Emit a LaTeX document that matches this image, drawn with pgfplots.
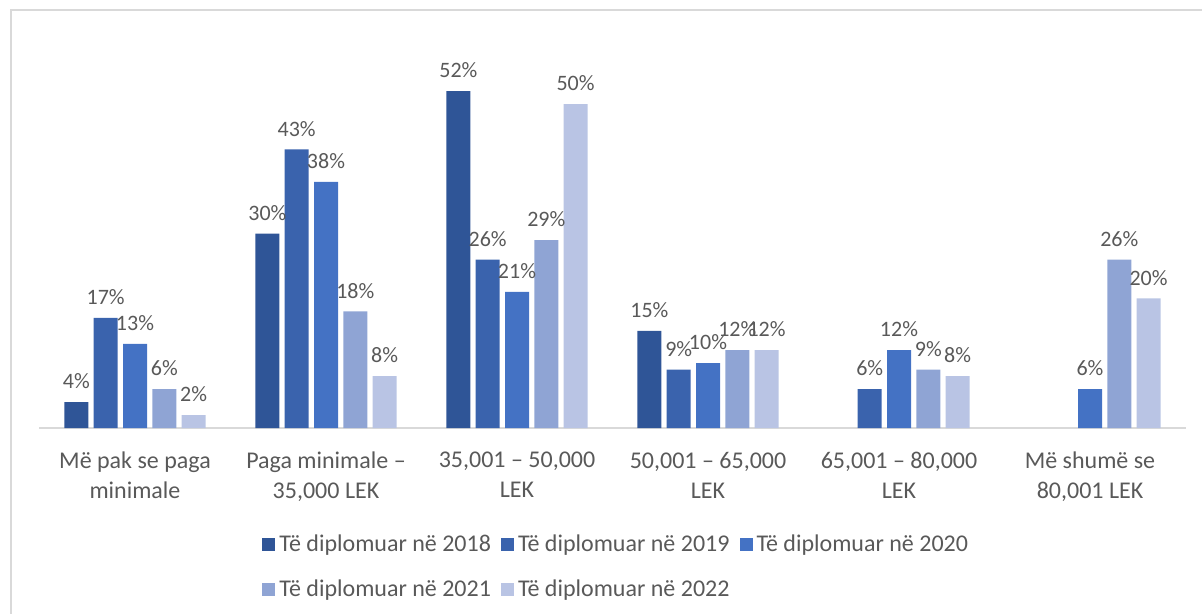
\documentclass[border=0pt]{standalone}
\usepackage{fontspec}
\setmainfont{Carlito}
\usepackage{pgfplots}
\pgfplotsset{compat=1.18}
\definecolor{cA}{RGB}{47,85,151}
\definecolor{cB}{RGB}{58,99,173}
\definecolor{cC}{RGB}{68,114,196}
\definecolor{cD}{RGB}{143,164,212}
\definecolor{cE}{RGB}{185,196,228}
\definecolor{txt}{RGB}{89,89,89}
\definecolor{gridc}{RGB}{217,217,217}
\begin{document}
\begin{tikzpicture}
\useasboundingbox (0,0) rectangle (601pt,-307pt);
\draw[gridc, line width=0.8pt] (5.5pt,-320pt) -- (5.5pt,-5pt) -- (620pt,-5pt);
\begin{axis}[
  at={(19.75pt,-214pt)}, anchor=south west,
  scale only axis, width=573pt, height=194.4pt,
  xmin=-0.5, xmax=5.5, ymin=0, ymax=60,
  axis x line*=bottom, axis y line=none,
  axis line style={draw=gridc, line width=0.8pt},
  xtick={0,1,2,3,4,5},
  xticklabels={{Më pak se paga\\minimale},{Paga minimale –\\35,000 LEK},{35,001 – 50,000\\LEK},{50,001 – 65,000\\LEK},{65,001 – 80,000\\LEK},{Më shumë se\\80,001 LEK}},
  xticklabel style={align=center, font=\fontsize{12}{15}\selectfont, text=txt, yshift=-8.5pt},
  major tick length=0pt,
  ytick=\empty,
  ybar=2.65pt, bar width=12pt,
  nodes near coords={\pgfmathprintnumber{\pgfplotspointmeta}\%},
  /pgf/number format/assume math mode=true,
  /pgf/number format/precision=0,
  every node near coord/.append style={font=\fontsize{11}{13}\selectfont, text=txt, yshift=3pt, inner xsep=0pt},
  legend columns=3,
  legend style={at={(0.189,-0.252)}, anchor=north west, draw=none, fill=none,
    font=\fontsize{12}{14}\selectfont, text=txt, row sep=9pt,
    /tikz/every even column/.append style={column sep=3pt}},
  legend image code/.code={\fill[#1] (0pt,-3.2pt) rectangle (6.5pt,3.3pt);},
  clip=false,
]
\addplot[fill=cA, draw=none] coordinates {(0,4) (1,30) (2,52) (3,15)};
\addplot[fill=cB, draw=none] coordinates {(0,17) (1,43) (2,26) (3,9) (4,6)};
\addplot[fill=cC, draw=none] coordinates {(0,13) (1,38) (2,21) (3,10) (4,12) (5,6)};
\addplot[fill=cD, draw=none] coordinates {(0,6) (1,18) (2,29) (3,12) (4,9) (5,26)};
\addplot[fill=cE, draw=none] coordinates {(0,2) (1,8) (2,50) (3,12) (4,8) (5,20)};
\legend{Të diplomuar në 2018,Të diplomuar në 2019,Të diplomuar në 2020,Të diplomuar në 2021,Të diplomuar në 2022}
\end{axis}
\end{tikzpicture}
\end{document}
